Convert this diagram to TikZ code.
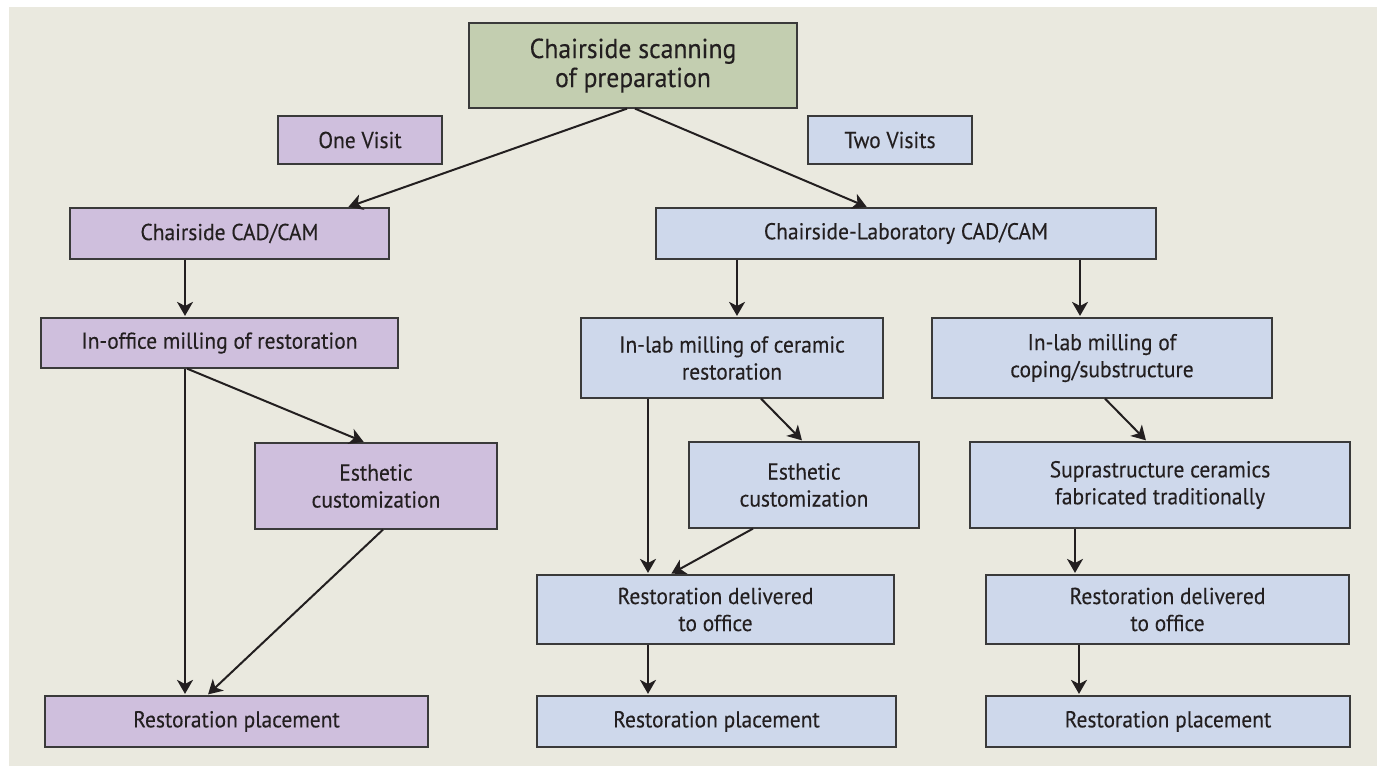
\documentclass[tikz,border=0pt]{standalone}
\usepackage{fontspec}
\setmainfont{PT Sans}[FakeStretch=0.935,FakeBold=0.2]
\usetikzlibrary{arrows.meta}
\definecolor{bgc}{HTML}{EAE9DF}
\definecolor{purp}{HTML}{CFBFDD}
\definecolor{blu}{HTML}{CED8EB}
\definecolor{grn}{HTML}{C3CEB0}
\definecolor{edge}{HTML}{3A3A3A}
\definecolor{ink}{HTML}{231F20}
\tikzset{
  pbox/.style={draw=edge, line width=1.2pt, inner sep=0pt, align=center, text=ink,
    font=\fontsize{23}{27}\selectfont},
  pur/.style={pbox, fill=purp},
  blb/.style={pbox, fill=blu},
  grb/.style={pbox, fill=grn, font=\fontsize{27.5}{29}\selectfont},
  arr/.style={draw=ink, line width=2pt, -{Stealth[length=14pt,width=16pt,inset=4pt]}, shorten >=1.5pt},
}
\begin{document}
\begin{tikzpicture}[x=1pt,y=-1pt]
\useasboundingbox (0,0) rectangle (1380,766);
\fill[white] (0,0) rectangle (1380,766);
\fill[bgc] (9,7) rectangle (1377,766);

\node[grb, minimum width=328pt, minimum height=85pt] (top) at (633,65.5) {Chairside scanning\\of preparation};
\node[pur, minimum width=164pt, minimum height=48pt] (one) at (360,140) {One Visit};
\node[blb, minimum width=164pt, minimum height=48pt] (two) at (890,140) {Two Visits};
\node[pur, minimum width=319pt, minimum height=51pt] (cad) at (229.5,233.5) {Chairside CAD/CAM};
\node[blb, minimum width=500pt, minimum height=51pt] (lab) at (906,233.5) {Chairside-Laboratory CAD/CAM};
\node[pur, minimum width=357pt, minimum height=50pt] (office) at (219.5,343) {In-office milling of restoration};
\node[pur, minimum width=242pt, minimum height=86pt] (esthL) at (376,486) {Esthetic\\customization};
\node[pur, minimum width=383pt, minimum height=51pt] (placeL) at (236.5,721.5) {Restoration placement};
\node[blb, minimum width=302pt, minimum height=80pt] (ceramic) at (732,358) {In-lab milling of ceramic\\restoration};
\node[blb, minimum width=340pt, minimum height=80pt] (coping) at (1102,358) {In-lab milling of\\coping/substructure};
\node[blb, minimum width=230pt, minimum height=86pt] (esthM) at (804,485) {Esthetic\\customization};
\node[blb, minimum width=380pt, minimum height=86pt] (supra) at (1160,485) {Suprastructure ceramics\\fabricated traditionally};
\node[blb, minimum width=357pt, minimum height=69pt] (delivM) at (715.5,609.5) {Restoration delivered\\to office};
\node[blb, minimum width=363pt, minimum height=69pt] (delivR) at (1167.5,609.5) {Restoration delivered\\to office};
\node[blb, minimum width=359pt, minimum height=51pt] (placeM) at (716.5,721.5) {Restoration placement};
\node[blb, minimum width=364pt, minimum height=51pt] (placeR) at (1168,721.5) {Restoration placement};

\draw[arr] ([xshift=-6pt]top.south) -- ([xshift=117.5pt]cad.north);
\draw[arr] ([xshift=2pt]top.south) -- ([xshift=-38pt]lab.north);
\draw[arr] ([xshift=-44.5pt]cad.south) -- ([xshift=-44.5pt]cad.south |- office.north);
\draw[arr] ([xshift=-169pt]lab.south) -- ([xshift=-169pt]lab.south |- ceramic.north);
\draw[arr] ([xshift=174pt]lab.south) -- ([xshift=174pt]lab.south |- coping.north);
\draw[arr] ([xshift=-34.5pt]office.south) -- ([xshift=-34.5pt]office.south |- placeL.north);
\draw[arr] ([xshift=-32.5pt]office.south) -- ([xshift=-11pt]esthL.north);
\draw[arr] ([xshift=7pt]esthL.south) -- ([xshift=-29.5pt]placeL.north);
\draw[arr] ([xshift=-84pt]ceramic.south) -- ([xshift=-84pt]ceramic.south |- delivM.north);
\draw[arr] ([xshift=29pt]ceramic.south) -- ([xshift=-1pt]esthM.north);
\draw[arr] ([xshift=-51pt]esthM.south) -- ([xshift=-45.5pt]delivM.north);
\draw[arr] ([xshift=-67.5pt]delivM.south) -- ([xshift=-67.5pt]delivM.south |- placeM.north);
\draw[arr] ([xshift=3pt]coping.south) -- ([xshift=-13pt]supra.north);
\draw[arr] ([xshift=-85pt]supra.south) -- ([xshift=-85pt]supra.south |- delivR.north);
\draw[arr] ([xshift=-88.5pt]delivR.south) -- ([xshift=-88.5pt]delivR.south |- placeR.north);
\end{tikzpicture}
\end{document}
